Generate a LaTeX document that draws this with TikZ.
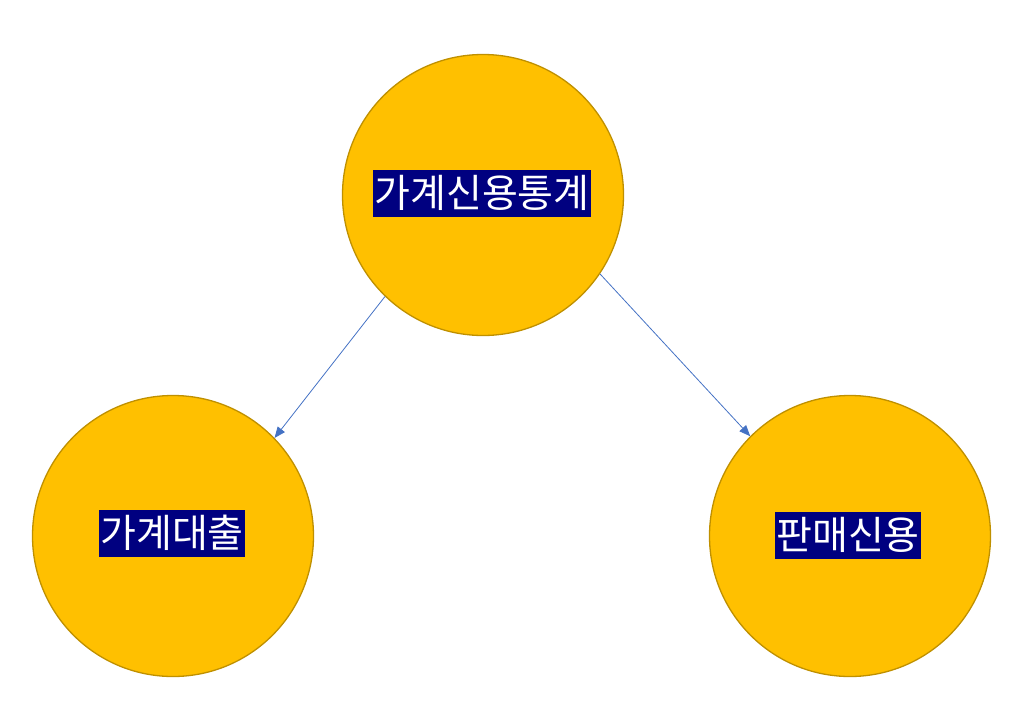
\documentclass[tikz,border=0pt]{standalone}
\usepackage{fontspec}
\newfontfamily\kr{Noto Sans CJK KR}
\definecolor{circfill}{HTML}{FFC000}
\definecolor{circline}{HTML}{BF9000}
\definecolor{arrowc}{HTML}{4472C4}
\definecolor{labbg}{HTML}{000080}
\usetikzlibrary{arrows.meta}
\begin{document}
\begin{tikzpicture}[x=1pt,y=-1pt,
  bubble/.style={circle,draw=circline,fill=circfill,line width=1.3pt,minimum size=281pt,inner sep=0pt},
  lab/.style={fill=labbg,text=white,inner xsep=1.5pt,inner ysep=0pt,minimum height=47pt,font=\kr\fontsize{39}{44}\selectfont},
  conn/.style={draw=arrowc,line width=0.8pt,-{Triangle[length=11pt,width=9pt]}}]
\useasboundingbox (0,0) rectangle (1018,718);
\node[bubble] (top) at (483,195) {};
\node[bubble] (left) at (173,536) {};
\node[bubble] (right) at (850,536) {};
\node[lab] (ltop) at (482,193) {가계신용통계};
\node[lab] (lleft) at (172,533) {가계대출};
\node[lab] (lright) at (848,535) {판매신용};
\draw[conn] (top.226) -- (left.44);
\draw[conn] (top.326) -- (right.135);
\end{tikzpicture}
\end{document}
